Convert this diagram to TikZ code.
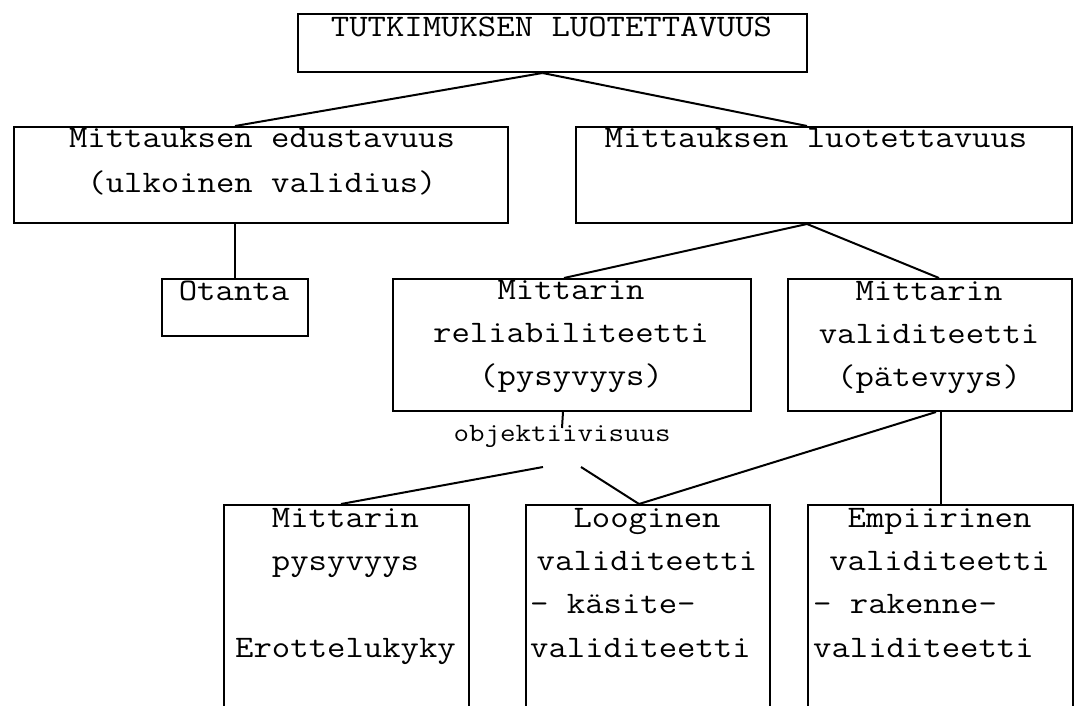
\documentclass[tikz,border=0pt]{standalone}
\usepackage{fontspec}
\usepackage{graphicx}
% typewriter face, widened slightly to a Courier-like pitch
\newcommand{\cw}[1]{\scalebox{1.14}[1]{#1}}
\begin{document}
\begin{tikzpicture}[x=1pt,y=-1pt]
\tikzset{
  box/.style={draw, line width=2pt, rectangle, inner sep=0pt, anchor=north west},
  txt/.style={anchor=base, inner sep=0pt, font=\fontsize{31.3}{40}\ttfamily},
  txtl/.style={txt, anchor=base west},
  small/.style={anchor=base, inner sep=0pt, font=\fontsize{26.4}{32}\ttfamily},
  link/.style={line width=2pt},
}
\useasboundingbox (0,0) rectangle (1074,706);
\clip (0,0) rectangle (1074,706);

% boxes
\node[box, minimum width=509pt, minimum height=58pt]  (top)    at (297,13)  {};
\node[box, minimum width=494pt, minimum height=96pt]  (left)   at (13,126)  {};
\node[box, minimum width=496pt, minimum height=96pt]  (right)  at (575,126) {};
\node[box, minimum width=146pt, minimum height=57pt]  (otanta) at (161,278) {};
\node[box, minimum width=358pt, minimum height=132pt] (rel)    at (392,278) {};
\node[box, minimum width=284pt, minimum height=132pt] (val)    at (787,278) {};
\node[box, minimum width=245pt, minimum height=260pt] (pys)    at (223,504) {};
\node[box, minimum width=244pt, minimum height=260pt] (loog)   at (525,504) {};
\node[box, minimum width=265pt, minimum height=260pt] (emp)    at (807,504) {};

% texts
\node[txt] (tTop) at (551.5,37) {\cw{TUTKIMUKSEN LUOTETTAVUUS}};
\node[txt] (tL1) at (262,148) {\cw{Mittauksen edustavuus}};
\node[txt] (tL2) at (262,193) {\cw{(ulkoinen validius)}};
\node[txt] (tR1) at (816,148) {\cw{Mittauksen luotettavuus}};
\node[txt] (tO)  at (234,300) {\cw{Otanta}};
\node[txt] (tRe1) at (571,299) {\cw{Mittarin}};
\node[txt] (tRe2) at (571,342) {\cw{reliabiliteetti}};
\node[txt] (tRe3) at (571,385) {\cw{(pysyvyys)}};
\node[txt] (tV1) at (929,300) {\cw{Mittarin}};
\node[txt] (tV2) at (929,343) {\cw{validiteetti}};
\node[txt] (tV3) at (929,386) {\cw{(pätevyys)}};
\node[txt] (tP1) at (345.5,527) {\cw{Mittarin}};
\node[txt] (tP2) at (345.5,570) {\cw{pysyvyys}};
\node[txt] (tP3) at (345.5,657) {\cw{Erottelukyky}};
\node[txt]  (tLo1) at (647,527) {\cw{Looginen}};
\node[txt]  (tLo2) at (647,570) {\cw{validiteetti}};
\node[txtl] (tLo3) at (530,613) {\cw{- käsite-}};
\node[txtl] (tLo4) at (530,657) {\cw{validiteetti}};
\node[txt]  (tE1) at (939.5,527) {\cw{Empiirinen}};
\node[txt]  (tE2) at (939.5,570) {\cw{validiteetti}};
\node[txtl] (tE3) at (813,613) {\cw{- rakenne-}};
\node[txtl] (tE4) at (813,657) {\cw{validiteetti}};
\node[small] (obj) at (562,441) {\cw{objektiivisuus}};

% connection points
\coordinate (topS)   at ([xshift=-10pt]top.south);
\coordinate (rightN) at ([xshift=-17pt]right.north);
\coordinate (rightS) at ([xshift=-17pt]right.south);
\coordinate (relN)   at ([xshift=-8pt]rel.north);
\coordinate (relS)   at ([xshift=-9pt]rel.south);
\coordinate (valN)   at ([xshift=9pt]val.north);
\coordinate (valS)   at ([xshift=6pt]val.south);
\coordinate (objT)   at (562,428);
\coordinate (objL)   at (543,467);
\coordinate (objR)   at (581,467);
\coordinate (pysN)   at ([xshift=-5.5pt]pys.north);
\coordinate (loogN)  at ([xshift=-9pt]loog.north);

% connectors
\draw[link] (topS) -- (left.north -| otanta.north);
\draw[link] (topS) -- (rightN);
\draw[link] (left.south -| otanta.north) -- (otanta.north);
\draw[link] (rightS) -- (relN);
\draw[link] (rightS) -- (valN);
\draw[link] (relS) -- (objT);
\draw[link] (objL) -- (pysN);
\draw[link] (objR) -- (loogN);
\draw[link] (valS) -- (loogN);
\draw[link] (emp.north |- val.south) -- (emp.north);
\end{tikzpicture}
\end{document}
